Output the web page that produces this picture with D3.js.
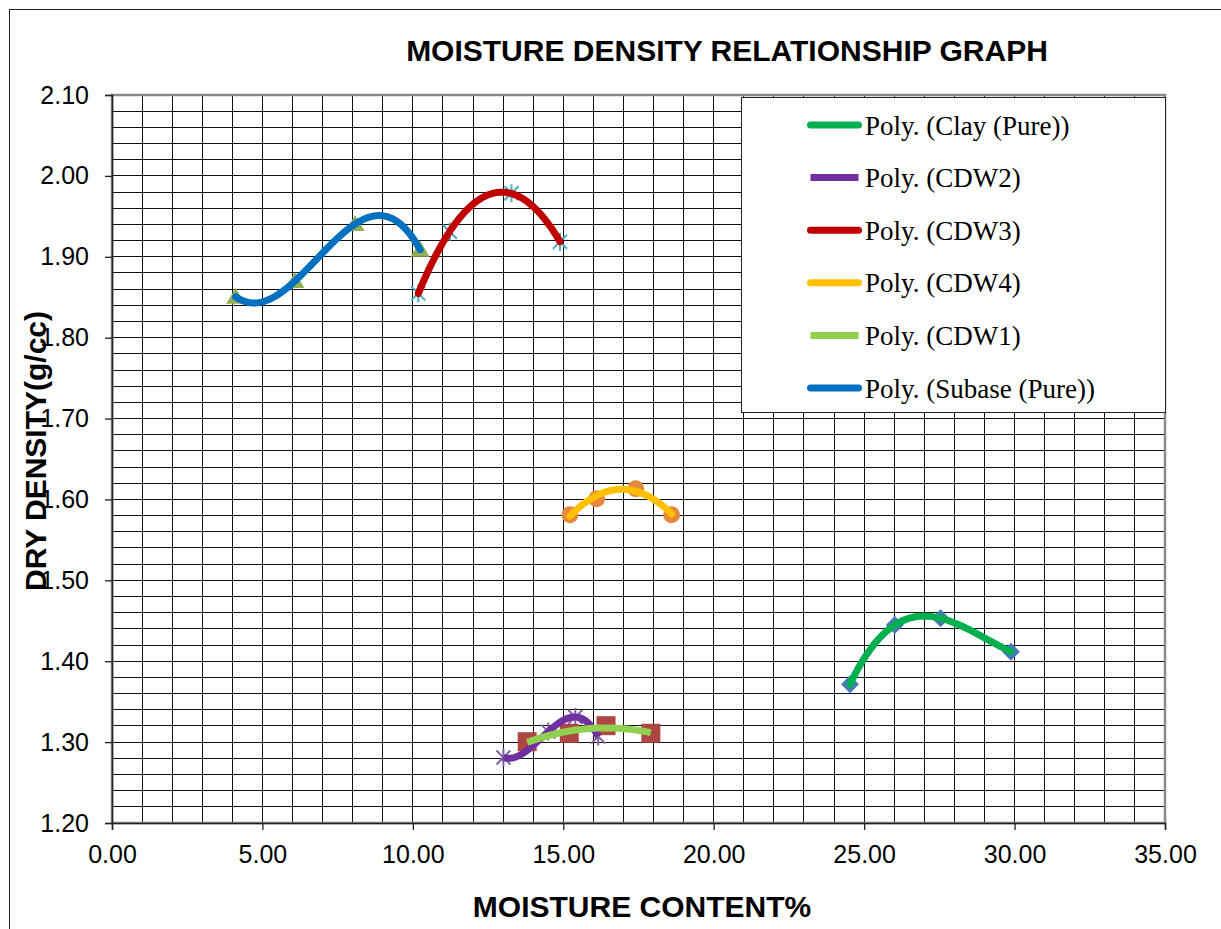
<!DOCTYPE html>
<html>
<head>
<meta charset="utf-8">
<script src="https://cdn.jsdelivr.net/npm/d3@7"></script>
<style>
  html, body { margin: 0; padding: 0; background: #fff; }
  svg { display: block; }
</style>
</head>
<body>
<svg id="chart" width="1221" height="929"></svg>
<script>
// ---- data: moisture content (%) vs dry density (g/cc) ----
const clayX   = [24.53, 26.02, 27.54, 29.88];
const clayY   = [1.3715, 1.4448, 1.4531, 1.4118];
const cdw2X   = [13.01, 14.50, 15.40, 16.16];
const cdw2Y   = [1.281, 1.313, 1.331, 1.307];
const cdw3X   = [10.18, 11.23, 13.28, 14.89];
const cdw3Y   = [1.8548, 1.931, 1.9785, 1.9186];
const cdw4X   = [15.22, 16.11, 17.41, 18.60];
const cdw4Y   = [1.581, 1.601, 1.6133, 1.581];
const cdw1X   = [13.80, 15.20, 16.42, 17.91];
const cdw1Y   = [1.3005, 1.3109, 1.3203, 1.3109];
const subaseX = [4.11, 6.08, 8.08, 10.24];
const subaseY = [1.8506, 1.870, 1.9405, 1.9086];

const xTicks = [0, 5, 10, 15, 20, 25, 30, 35];
const yTicks = [1.2, 1.3, 1.4, 1.5, 1.6, 1.7, 1.8, 1.9, 2.0, 2.1];
const legendLabels = ["Poly. (Clay (Pure))", "Poly. (CDW2)", "Poly. (CDW3)",
                      "Poly. (CDW4)", "Poly. (CDW1)", "Poly. (Subase (Pure))"];

// ---- series styling ----
const series = [
  { key: "clay",   xs: clayX,   ys: clayY,   order: 3, line: "#00B050", cap: "round", marker: "diamond",  mcolor: "#4A79B8" },
  { key: "cdw2",   xs: cdw2X,   ys: cdw2Y,   order: 3, line: "#7030A0", cap: "butt",  marker: "asterisk", mcolor: "#7F63A1" },
  { key: "cdw3",   xs: cdw3X,   ys: cdw3Y,   order: 2, line: "#C00000", cap: "round", marker: "asterisk", mcolor: "#4BACC6" },
  { key: "cdw4",   xs: cdw4X,   ys: cdw4Y,   order: 2, line: "#FFC000", cap: "round", marker: "circle",   mcolor: "#E6893D" },
  { key: "cdw1",   xs: cdw1X,   ys: cdw1Y,   order: 2, line: "#92D050", cap: "butt",  marker: "square",   mcolor: "#AE4643" },
  { key: "subase", xs: subaseX, ys: subaseY, order: 3, line: "#0070C0", cap: "round", marker: "triangle", mcolor: "#93AE55" }
];

const svg = d3.select("#chart");
const W = 1221, H = 929;
const plot = { left: 112, right: 1165, top: 95, bottom: 823 };

const x = d3.scaleLinear().domain([0, 35]).range([plot.left, plot.right]);
const y = d3.scaleLinear().domain([1.2, 2.1]).range([plot.bottom, plot.top]);

// outer chart frame
svg.append("rect").attr("x", 9.5).attr("y", 9.5).attr("width", W + 20).attr("height", H + 20)
  .attr("fill", "#fff").attr("stroke", "#222").attr("stroke-width", 1);

// ---- grid ----
const grid = svg.append("g").attr("shape-rendering", "crispEdges");
grid.selectAll("line.v").data(d3.range(1, 35)).join("line")
  .attr("x1", d => x(d)).attr("x2", d => x(d))
  .attr("y1", plot.top).attr("y2", plot.bottom)
  .attr("stroke", "#111").attr("stroke-width", 1);
grid.selectAll("line.h").data(d3.range(1, 45).map(i => 1.2 + i * 0.02)).join("line")
  .attr("x1", plot.left).attr("x2", plot.right)
  .attr("y1", d => y(d)).attr("y2", d => y(d))
  .attr("stroke", "#111").attr("stroke-width", 1);

// plot area border (top/right grey)
svg.append("rect").attr("x", plot.left).attr("y", plot.top)
  .attr("width", plot.right - plot.left).attr("height", plot.bottom - plot.top)
  .attr("fill", "none").attr("stroke", "#8a8a8a").attr("stroke-width", 2.5);

// ---- axes ----
const fmt = d3.format(".2f");
const yAxis = svg.append("g").attr("transform", `translate(${plot.left},0)`)
  .call(d3.axisLeft(y).tickValues(yTicks).tickFormat(fmt).tickSize(7).tickPadding(16));
const xAxis = svg.append("g").attr("transform", `translate(0,${plot.bottom})`)
  .call(d3.axisBottom(x).tickValues(xTicks).tickFormat(fmt).tickSize(7).tickPadding(15));
[xAxis, yAxis].forEach(g => {
  g.selectAll("path.domain").attr("stroke", "#222").attr("stroke-width", 1.5);
  g.selectAll(".tick line").attr("stroke", "#222").attr("stroke-width", 1.3);
  g.selectAll("text").attr("font-family", "Liberation Sans, Arial, sans-serif")
    .attr("font-size", 25).attr("fill", "#000");
});

// ---- least-squares polynomial trendline ----
function polyfit(xs, ys, order) {
  const m = d3.mean(xs);
  const n = order + 1;
  const A = Array.from({ length: n }, () => new Array(n + 1).fill(0));
  xs.forEach((xv, k) => {
    const t = xv - m;
    for (let i = 0; i < n; i++) {
      for (let j = 0; j < n; j++) A[i][j] += Math.pow(t, i + j);
      A[i][n] += ys[k] * Math.pow(t, i);
    }
  });
  for (let c = 0; c < n; c++) {
    let p = c;
    for (let r = c + 1; r < n; r++) if (Math.abs(A[r][c]) > Math.abs(A[p][c])) p = r;
    [A[c], A[p]] = [A[p], A[c]];
    for (let r = 0; r < n; r++) {
      if (r === c) continue;
      const f = A[r][c] / A[c][c];
      for (let k = c; k <= n; k++) A[r][k] -= f * A[c][k];
    }
  }
  const coef = A.map((row, i) => row[n] / row[i]);
  return xv => coef.reduce((s, a, i) => s + a * Math.pow(xv - m, i), 0);
}

// ---- markers ----
function markerPath(type) {
  switch (type) {
    case "triangle": return "M0,-9L9.5,7L-9.5,7Z";
    case "diamond":  return "M0,-9L9,0L0,9L-9,0Z";
    case "square":   return "M-9.5,-9.5H9.5V9.5H-9.5Z";
    case "circle":   return d3.symbol(d3.symbolCircle, Math.PI * 8.5 * 8.5)();
    case "asterisk": return "M-7,-7L7,7M-7,7L7,-7M0,-9V9";
  }
}
const markers = svg.append("g");
series.forEach(s => {
  const pts = s.xs.map((xv, i) => [xv, s.ys[i]]);
  const isStroke = s.marker === "asterisk";
  markers.append("g").selectAll("path").data(pts).join("path")
    .attr("transform", d => `translate(${x(d[0])},${y(d[1])})`)
    .attr("d", markerPath(s.marker))
    .attr("fill", isStroke ? "none" : s.mcolor)
    .attr("stroke", isStroke ? s.mcolor : "none")
    .attr("stroke-width", isStroke ? 2 : 0);
});

// ---- trendlines ----
const lineGen = d3.line().x(d => x(d[0])).y(d => y(d[1]));
const trends = svg.append("g").attr("fill", "none");
series.forEach(s => {
  const f = polyfit(s.xs, s.ys, s.order);
  const x0 = d3.min(s.xs), x1 = d3.max(s.xs);
  const pts = d3.range(0, 101).map(i => { const xv = x0 + (x1 - x0) * i / 100; return [xv, f(xv)]; });
  trends.append("path").datum(pts).attr("d", lineGen)
    .attr("stroke", s.line).attr("stroke-width", 7)
    .attr("stroke-linecap", s.cap).attr("stroke-linejoin", "round");
});

// ---- legend ----
const legend = svg.append("g");
legend.append("rect").attr("x", 741.5).attr("y", 97.5).attr("width", 424).attr("height", 315)
  .attr("fill", "#fff").attr("stroke", "#222").attr("stroke-width", 1);
legendLabels.forEach((lab, i) => {
  const s = series[i];
  const cy = 125 + i * 52.6;
  legend.append("line").attr("x1", 810.5).attr("x2", 858.5).attr("y1", cy).attr("y2", cy)
    .attr("stroke", s.line).attr("stroke-width", 7).attr("stroke-linecap", s.cap);
  legend.append("text").attr("x", 865).attr("y", cy + 9.5)
    .attr("font-family", "Liberation Serif, Times New Roman, serif").attr("font-size", 27)
    .attr("fill", "#000").text(lab);
});

// ---- titles ----
const bold = t => t.attr("font-family", "Liberation Sans, Arial, sans-serif")
  .attr("font-weight", "bold").attr("font-size", 30).attr("fill", "#000").attr("text-anchor", "middle");
bold(svg.append("text").attr("x", 727).attr("y", 61).text("MOISTURE DENSITY RELATIONSHIP GRAPH"));
bold(svg.append("text").attr("x", 642).attr("y", 917).text("MOISTURE CONTENT%"));
bold(svg.append("text").attr("transform", "translate(46,451) rotate(-90)").text("DRY DENSITY(g/cc)"));
</script>
</body>
</html>
